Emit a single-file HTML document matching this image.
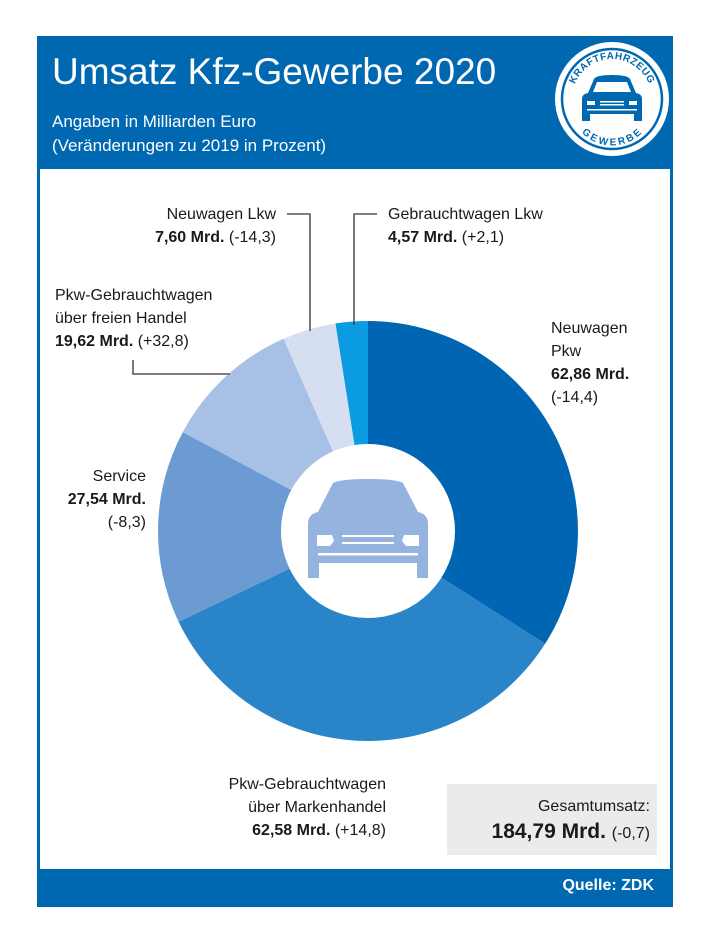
<!DOCTYPE html>
<html><head><meta charset="utf-8"><style>
body{margin:0;width:710px;height:938px;background:#fff;position:relative;font-family:"Liberation Sans","DejaVu Sans",sans-serif;overflow:hidden}
.t{position:absolute;font-size:16px;color:#1a1a1a;line-height:23px;white-space:nowrap}
.t b{font-weight:bold}
.r{text-align:right}
</style></head><body>
<div style="position:absolute;left:37px;top:36px;width:636px;height:871px;background:#0067b1"></div>
<div style="position:absolute;left:40px;top:169px;width:630px;height:700px;background:#fff"></div>
<div style="position:absolute;left:52px;top:48px;color:#fff;font-size:37px;line-height:48px">Umsatz Kfz-Gewerbe 2020</div>
<div style="position:absolute;left:52px;top:110px;color:#fff;font-size:17px;line-height:24px">Angaben in Milliarden Euro<br>(Veränderungen zu 2019 in Prozent)</div>
<svg style="position:absolute;left:0;top:0" width="710" height="938">
<defs>
<path id="arcTop" d="M-40,0 A40,40 0 0 1 40,0"/>
<path id="arcBot" d="M-36,4 A36,36 0 0 0 36,4"/>
</defs>
<g transform="translate(612,99)">
<circle r="57" fill="#fff"/><circle r="50" fill="none" stroke="#0067b1" stroke-width="2.5"/>
<path d="M-18,-20 Q-16,-24 0,-24 Q16,-24 18,-20 L24,-6 Q30,-5 30,0 L30,22 L22,22 L22,15 L-22,15 L-22,22 L-30,22 L-30,0 Q-30,-5 -24,-6 Z" fill="#0067b1"/>
<path d="M-15,-17 L15,-17 L19,-7 L-19,-7 Z" fill="#fff"/>
<rect x="-25" y="2" width="8" height="4" fill="#fff"/><rect x="17" y="2" width="8" height="4" fill="#fff"/>
<rect x="-12" y="2" width="24" height="1.5" fill="#fff"/><rect x="-12" y="5" width="24" height="1.5" fill="#fff"/>
<rect x="-25" y="10" width="50" height="1.5" fill="#fff"/>
<text font-size="10" font-weight="bold" fill="#0067b1" font-family="Liberation Sans" letter-spacing="0.5"><textPath href="#arcTop" startOffset="50%" text-anchor="middle">KRAFTFAHRZEUG</textPath></text>
<text font-size="10" font-weight="bold" fill="#0067b1" font-family="Liberation Sans" letter-spacing="1"><textPath href="#arcBot" startOffset="50%" text-anchor="middle" dominant-baseline="hanging">GEWERBE</textPath></text>
</g>
<path d="M368,531 L368,321 A210,210 0 0 1 545.1,643.8 Z" fill="#0066b3"/>
<path d="M368,531 L545.1,643.8 A210,210 0 0 1 178.6,621.7 Z" fill="#2a85c8"/>
<path d="M368,531 L178.6,621.7 A210,210 0 0 1 182.8,432.1 Z" fill="#6c9bd4"/>
<path d="M368,531 L182.8,432.1 A210,210 0 0 1 283.6,338.7 Z" fill="#a7c0e6"/>
<path d="M368,531 L283.6,338.7 A210,210 0 0 1 335.5,323.5 Z" fill="#d6dff2"/>
<path d="M368,531 L335.5,323.5 A210,210 0 0 1 368,321 Z" fill="#0a9be0"/>
<circle cx="368" cy="531" r="87" fill="#fff"/>
<g fill="#94b3df">
<path d="M318,512 L333,483 Q340,479 368,479 Q396,479 403,483 L418,512 Q428,514 428,524 L428,578 L417,578 L417,563 L319,563 L319,578 L308,578 L308,524 Q308,514 318,512 Z"/>
</g>
<g fill="#fff">
<path d="M317,535 L332,535 L334,541 L330,546 L317,546 Z"/>
<path d="M419,535 L404,535 L402,541 L406,546 L419,546 Z"/>
<rect x="342" y="535" width="52" height="2"/><rect x="342" y="542" width="52" height="2"/>
<rect x="318" y="553" width="100" height="2.5"/>
</g>
<g stroke="#333" stroke-width="1.3" fill="none">
<polyline points="287,214 310,214 310,331"/>
<polyline points="377,214 354,214 354,325"/>
<polyline points="133,360 133,374 230,374"/>
</g>
</svg>
<div class="t r" style="right:434px;top:203px">Neuwagen Lkw<br><b>7,60 Mrd.</b> (-14,3)</div>
<div class="t" style="left:388px;top:203px">Gebrauchtwagen Lkw<br><b>4,57 Mrd.</b> (+2,1)</div>
<div class="t" style="left:55px;top:284px">Pkw-Gebrauchtwagen<br>über freien Handel<br><b>19,62 Mrd.</b> (+32,8)</div>
<div class="t" style="left:551px;top:317px">Neuwagen<br>Pkw<br><b>62,86 Mrd.</b><br>(-14,4)</div>
<div class="t r" style="right:564px;top:465px">Service<br><b>27,54 Mrd.</b><br>(-8,3)</div>
<div class="t r" style="right:324px;top:773px">Pkw-Gebrauchtwagen<br>über Markenhandel<br><b>62,58 Mrd.</b> (+14,8)</div>
<div style="position:absolute;left:447px;top:784px;width:210px;height:71px;background:#ebebeb"></div>
<div class="t r" style="right:60px;top:795px">Gesamtumsatz:</div>
<div class="t r" style="right:60px;top:818px;font-size:21px;line-height:28px"><b>184,79 Mrd.</b> <span style="font-size:16px">(-0,7)</span></div>
<div style="position:absolute;right:56px;top:877px;color:#fff;font-size:16px;font-weight:bold">Quelle: ZDK</div>
</body></html>
